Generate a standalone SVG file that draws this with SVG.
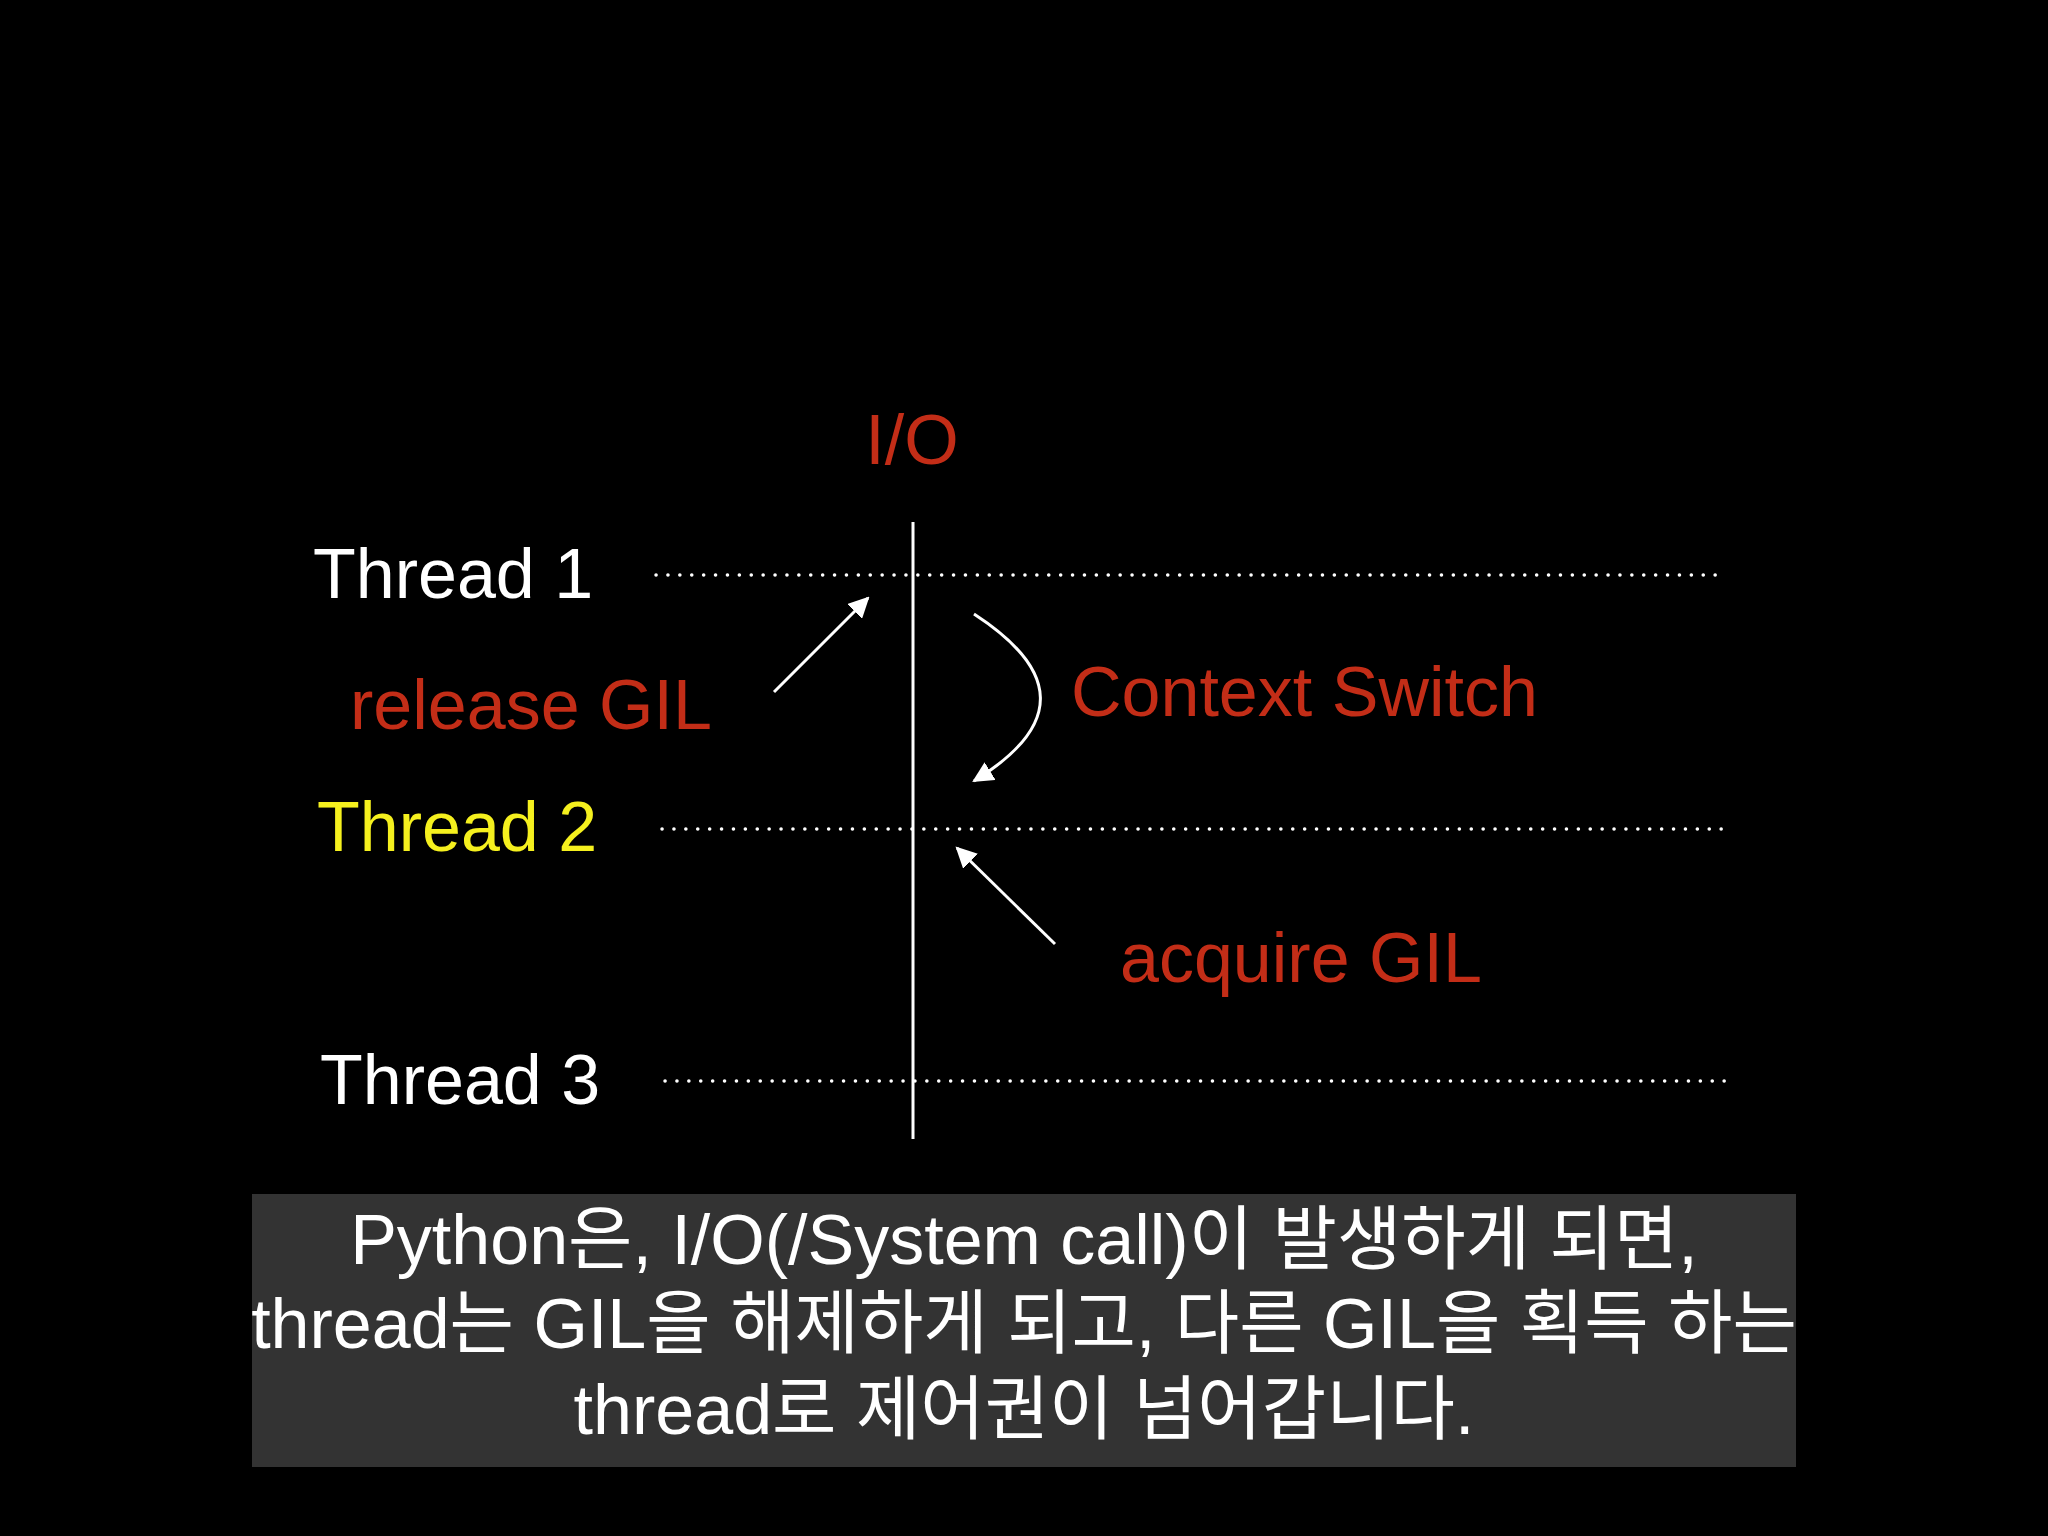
<svg xmlns="http://www.w3.org/2000/svg" width="2048" height="1536" viewBox="0 0 2048 1536">
<defs>
<style>
text{font-family:"Liberation Sans","Noto Sans CJK KR",sans-serif}
.lbl{font-size:70px;fill:#fff}
.red{fill:#c32d17}
.dot{stroke:#fff;stroke-width:3.5;stroke-dasharray:0.1 11.8;stroke-linecap:round;fill:none}
.ln{stroke:#fff;stroke-width:3;fill:none}
.cap{font-size:70px;fill:#fff;text-anchor:middle}
</style>
<marker id="ah" viewBox="0 0 10 10" refX="9" refY="5" markerWidth="7" markerHeight="7" orient="auto"><path d="M0,0 L10,5 L0,10 z" fill="#fff"/></marker>
</defs>
<rect width="2048" height="1536" fill="#000"/>
<g id="io"><text x="912" y="464" class="lbl red" font-size="72" text-anchor="middle">I/O</text></g>
<g id="t1"><text x="313" y="598" class="lbl">Thread 1</text></g>
<g id="t2"><text x="317" y="851" class="lbl" fill="#f5f01e" style="fill:#f5f01e">Thread 2</text></g>
<g id="t3"><text x="320" y="1104" class="lbl">Thread 3</text></g>
<g id="rel"><text x="350" y="729" class="lbl red">release GIL</text></g>
<g id="cs"><text x="1071" y="716" class="lbl red">Context Switch</text></g>
<g id="acq"><text x="1120" y="982" class="lbl red">acquire GIL</text></g>
<g id="connectors">
<line x1="913" y1="522" x2="913" y2="1139" class="ln"/>
<line x1="656" y1="575" x2="1724" y2="575" class="dot"/>
<line x1="662" y1="829" x2="1728" y2="829" class="dot"/>
<line x1="665" y1="1081" x2="1730" y2="1081" class="dot"/>
<line x1="774" y1="692" x2="868" y2="598" class="ln" marker-end="url(#ah)"/>
<path d="M974,614 C1060,670 1065,725 974,781" class="ln" marker-end="url(#ah)"/>
<line x1="1055" y1="944" x2="957" y2="848" class="ln" marker-end="url(#ah)"/>
</g>
<g id="caption">
<rect x="252" y="1194" width="1544" height="273" fill="#333"/>
<text x="1024" y="1264" class="cap">Python은, I/O(/System call)이 발생하게 되면,</text>
<text x="1024" y="1348" class="cap">thread는 GIL을 해제하게 되고, 다른 GIL을 획득 하는</text>
<text x="1024" y="1434" class="cap">thread로 제어권이 넘어갑니다.</text>
</g>
</svg>
